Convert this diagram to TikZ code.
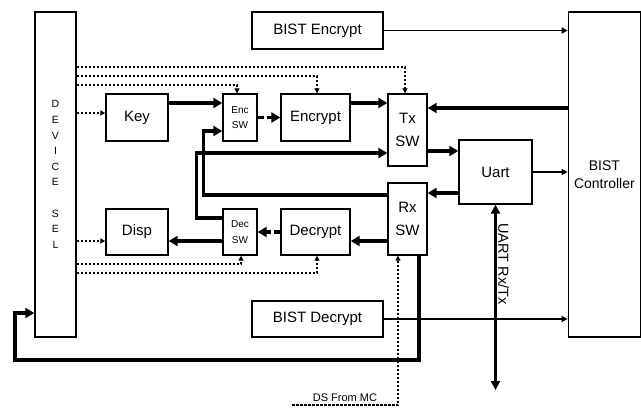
\documentclass[tikz,border=0pt]{standalone}
\usepackage{fontspec}
\setmainfont{Liberation Sans}
\usetikzlibrary{arrows.meta}

\begin{document}
\begin{tikzpicture}[x=1pt,y=-1pt,
  blk/.style={draw,line width=1.4pt,inner sep=0pt,align=center,font=\fontsize{15}{18}\selectfont},
  swblk/.style={blk,font=\fontsize{10}{15.5}\selectfont},
  bus/.style={line width=3.2pt,-{Triangle[length=9pt,width=10pt]}},
  wire/.style={line width=1.3pt,-{Triangle[length=6pt,width=6pt]}},
  sig/.style={line width=1.2pt,dash pattern=on 2.5pt off 1.5pt,-{Triangle[length=5pt,width=5pt]}}]
  \useasboundingbox (0,0) rectangle (641,410);
  % blocks
  \node[blk,minimum width=41pt,minimum height=325pt,font=\fontsize{10.5}{15.6}\selectfont] (devsel) at (55.5,174.5) {D\\E\\V\\I\\C\\E\\[15.6pt]S\\E\\L};
  \node[blk,minimum width=72pt,minimum height=325pt,font=\fontsize{14}{18}\selectfont] (bistc) at (604.4,174.5) {BIST\\Controller};
  \node[blk,minimum width=131pt,minimum height=37pt] (bisten) at (317.5,30.5) {BIST Encrypt};
  \node[blk,minimum width=131pt,minimum height=36pt] (bistde) at (317.5,319) {BIST Decrypt};
  \node[blk,minimum width=62pt,minimum height=47pt] (key) at (137,117.5) {Key};
  \node[swblk,minimum width=34pt,minimum height=47pt] (encsw) at (240,117.5) {Enc\\SW};
  \node[blk,minimum width=69pt,minimum height=47pt] (encr) at (315.5,117.5) {Encrypt};
  \node[blk,minimum width=39pt,minimum height=72pt,font=\fontsize{15}{22.5}\selectfont] (txsw) at (407.5,130) {Tx\\SW};
  \node[blk,minimum width=73pt,minimum height=64pt] (uart) at (495.5,172) {Uart};
  \node[blk,minimum width=39pt,minimum height=72pt,font=\fontsize{15}{22.5}\selectfont] (rxsw) at (407.5,219) {Rx\\SW};
  \node[swblk,minimum width=34pt,minimum height=46pt] (decsw) at (240,232) {Dec\\SW};
  \node[blk,minimum width=69pt,minimum height=46pt] (decr) at (315.5,232) {Decrypt};
  \node[blk,minimum width=62pt,minimum height=46pt] (disp) at (137,232) {Disp};
  % data path
  \draw[bus] ([yshift=14.5pt]key.east) -- ([yshift=14.5pt]encsw.west);
  \draw[bus,dash pattern=on 6pt off 3pt] (encsw.east) -- (encr.west);
  \draw[bus] ([yshift=14.5pt]encr.east) -- ([yshift=27pt]txsw.west);
  \draw[bus] ([yshift=-21pt]txsw.east) -- ([yshift=21pt]uart.west);
  \draw[bus] ([yshift=-21pt]uart.west) -- ([yshift=26pt]rxsw.east);
  \draw[bus] ([yshift=-22pt]rxsw.west) -- ([yshift=-9pt]decr.east);
  \draw[bus,dash pattern=on 6pt off 3pt] (decr.west) -- (decsw.east);
  \draw[bus] ([yshift=-9pt]decsw.west) -- ([yshift=-9pt]disp.east);
  \draw[bus] ([yshift=66.5pt]bistc.west) -- ([yshift=22pt]txsw.east);
  % loop back paths
  \draw[bus] ([yshift=14pt]decsw.west) -- ++(-26,0) |- ([yshift=-23pt]txsw.west);
  \draw[bus] ([yshift=24pt]rxsw.west) -- ++(-184,0) |- ([yshift=-13.5pt]encsw.west);
  \coordinate (back) at (15,360);
  \draw[bus] ([xshift=11.5pt]rxsw.south) |- (back) |- ([yshift=-138.5pt]devsel.west);
  % BIST links
  \draw[wire] (bisten.east) -- ([yshift=144pt]bistc.west);
  \draw[wire] (bistde.east) -- ([yshift=-144.5pt]bistc.west);
  \draw[wire] (uart.east) -- ([yshift=2.5pt]bistc.west);
  % uart pins
  \coordinate (uartio) at (495.5,390);
  \draw[line width=3.2pt,{Triangle[length=9pt,width=9pt]}-{Triangle[length=9pt,width=9pt]}] (uart.south) -- (uartio);
  \node[font=\fontsize{14.5}{17}\selectfont,rotate=-90] (uartlbl) at (503.5,264) {UART Rx/Tx};
  % select lines
  \draw[sig] ([yshift=107.5pt]devsel.east) -| ([xshift=-2.5pt]txsw.north);
  \draw[sig] ([yshift=98.5pt]devsel.east) -| ([xshift=1.5pt]encr.north);
  \draw[sig] ([yshift=89.5pt]devsel.east) -| ([xshift=-3pt]encsw.north);
  \draw[sig] ([yshift=61.5pt]devsel.east) -- ([yshift=4.5pt]key.west);
  \draw[sig] ([yshift=-66.5pt]devsel.east) -- ([yshift=-9pt]disp.west);
  \draw[sig] ([yshift=-89.5pt]devsel.east) -| ([xshift=1pt]decsw.south);
  \draw[sig] ([yshift=-98.5pt]devsel.east) -| ([xshift=1.5pt]decr.south);
  \coordinate (ds) at (292,405);
  \draw[sig] (ds) -| node[pos=0.25,above=-1pt,font=\fontsize{11}{13}\selectfont] (dslbl) {DS From MC} ([xshift=-9.5pt]rxsw.south);
\end{tikzpicture}
\end{document}
